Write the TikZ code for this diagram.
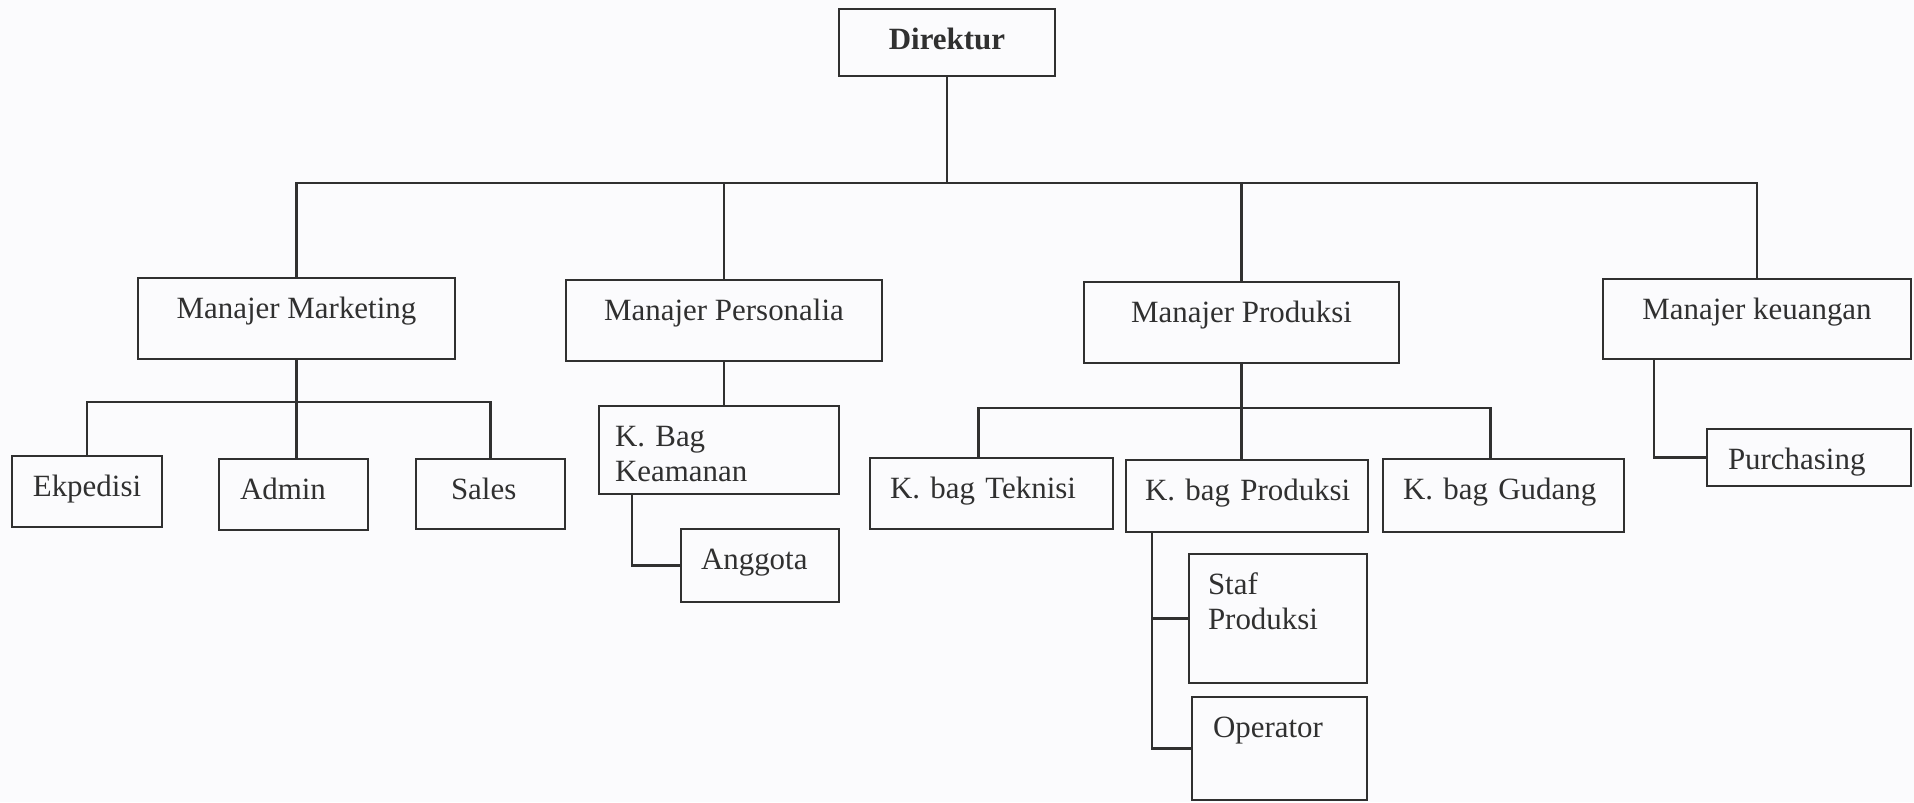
\documentclass[tikz,border=0pt]{standalone}
\usepackage{fontspec}
\setmainfont{Liberation Serif}
\usepackage{tikz}
\usetikzlibrary{positioning, calc}
\definecolor{ink}{RGB}{48,48,48}
\definecolor{paper}{RGB}{251,251,253}

\begin{document}
\frenchspacing
\begin{tikzpicture}[x=1cm, y=-1cm,
  every node/.style={font=\fontsize{8.8}{10.1}\selectfont, text=ink},
  unit/.style={draw=ink, line width=0.8pt, inner ysep=0pt, outer sep=0pt, text height=0.40cm, anchor=north west},
  cbox/.style={unit, align=center, inner xsep=0pt},
  lbox/.style={unit, align=left},
  link/.style={draw=ink, line width=0.6pt}
]
  \path[use as bounding box, fill=paper] (0,0) rectangle (19.14,8.02);

  \node[cbox, minimum width=2.16cm, text depth=0.27cm] (dir) at (8.39,0.09) {\textbf{Direktur}};

  \node[cbox, minimum width=3.17cm, text depth=0.41cm] (mkt) at (1.38,2.78) {Manajer Marketing};
  \node[cbox, minimum width=3.16cm, text depth=0.41cm] (per) at (5.66,2.80) {Manajer Personalia};
  \node[cbox, minimum width=3.15cm, text depth=0.41cm] (prd) at (10.84,2.82) {Manajer Produksi};
  \node[cbox, minimum width=3.08cm, text depth=0.40cm] (keu) at (16.03,2.79) {Manajer keuangan};

  \node[cbox, minimum width=1.50cm, text depth=0.31cm] (eks) at (0.12,4.56) {Ekpedisi};
  \node[lbox, inner xsep=0.21cm, text width=1.07cm, text depth=0.31cm] (adm) at (2.19,4.59) {Admin};
  \node[lbox, inner xsep=0.35cm, text width=0.79cm, text depth=0.30cm] (sls) at (4.16,4.59) {Sales};

  \node[lbox, inner xsep=0.16cm, text width=2.08cm, text depth=0.48cm] (kam) at (5.99,4.06) {K. Bag\\Keamanan};
  \node[lbox, inner xsep=0.20cm, text width=1.18cm, text depth=0.33cm] (ang) at (6.81,5.29) {Anggota};

  \node[lbox, inner xsep=0.20cm, text width=2.03cm, text depth=0.31cm] (tek) at (8.70,4.58) {\mbox{K. bag Teknisi}};
  \node[lbox, inner xsep=0.19cm, text width=2.04cm, text depth=0.32cm] (kpr) at (11.26,4.60) {\mbox{K. bag Produksi}};
  \node[lbox, inner xsep=0.20cm, text width=2.01cm, text depth=0.33cm] (gud) at (13.83,4.59) {\mbox{K. bag Gudang}};

  \node[lbox, inner xsep=0.19cm, text width=1.40cm, text depth=0.89cm] (stf) at (11.89,5.54) {Staf\\Produksi};
  \node[lbox, inner xsep=0.21cm, text width=1.33cm, text depth=0.63cm] (opr) at (11.92,6.97) {Operator};

  \node[lbox, inner xsep=0.21cm, text width=1.62cm, text depth=0.17cm] (pur) at (17.07,4.29) {Purchasing};

  \coordinate (topbus) at (0,1.83);
  \coordinate (mbus) at (0,4.02);
  \coordinate (pbus) at (0,4.08);
  \coordinate (kamdrop) at ([xshift=0.33cm]kam.south west);
  \coordinate (kprdrop) at ([xshift=0.26cm]kpr.south west);
  \coordinate (keudrop) at ([xshift=0.51cm]keu.south west);
  \coordinate (tekup) at ([xshift=-0.13cm]tek.north);
  \coordinate (gudup) at ([xshift=-0.13cm]gud.north);

  \draw[link] (dir.south) -- (dir.south |- topbus);
  \draw[link] (mkt.north) -- (mkt.north |- topbus) -- (keu.north |- topbus) -- (keu.north);
  \draw[link] (per.north) -- (per.north |- topbus);
  \draw[link] (prd.north) -- (prd.north |- topbus);

  \draw[link] (mkt.south) -- (mkt.south |- adm.north);
  \draw[link] (eks.north) -- (eks.north |- mbus) -- (sls.north |- mbus) -- (sls.north);

  \draw[link] (per.south) -- (per.south |- kam.north);
  \draw[link] (kamdrop) |- (ang.west);

  \draw[link] (prd.south) -- (prd.south |- kpr.north);
  \draw[link] (tekup) -- (tekup |- pbus) -- (gudup |- pbus) -- (gudup);
  \draw[link] (kprdrop) |- (opr.west);
  \draw[link] (kprdrop |- stf.west) -- (stf.west);

  \draw[link] (keudrop) |- (pur.west);
\end{tikzpicture}
\end{document}
